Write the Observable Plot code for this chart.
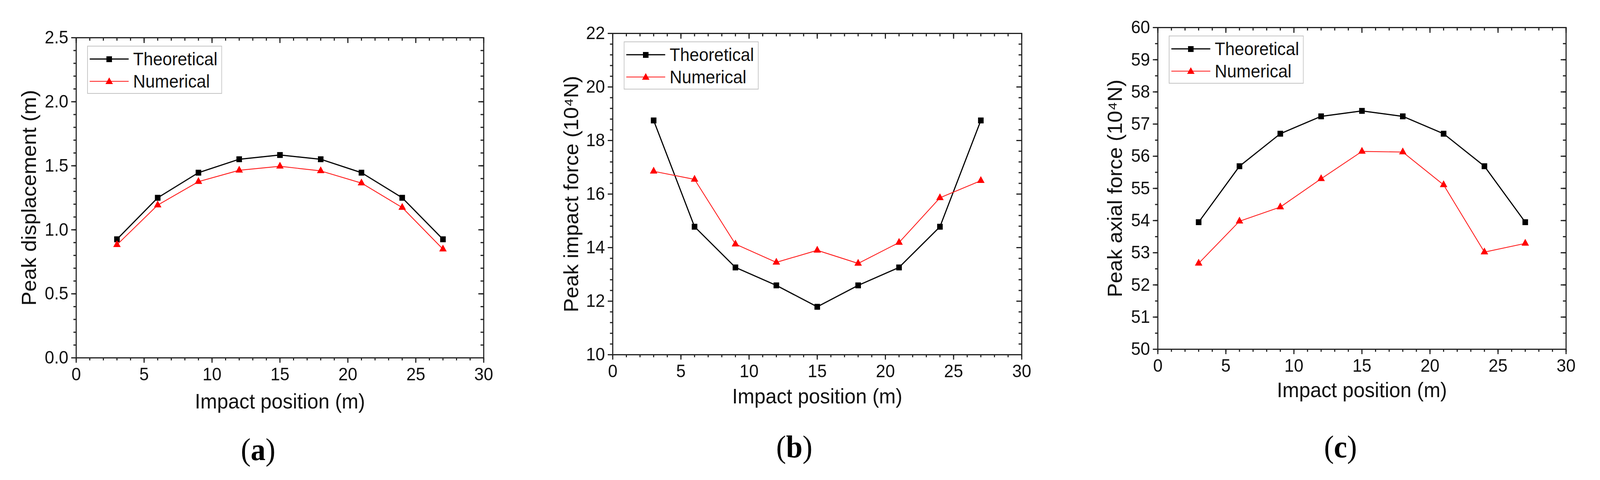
<!DOCTYPE html>
<html>
<head>
<meta charset="utf-8">
<script src="https://cdn.jsdelivr.net/npm/d3@7"></script>
<script src="https://cdn.jsdelivr.net/npm/@observablehq/plot@0.6"></script>
<style>
  body { margin: 0; background: #fff; overflow: hidden; }
  #page { position: relative; width: 4315px; height: 1228px; overflow: hidden; transform-origin: 0 0; }
  .panel { position: absolute; }
  .legend { position: absolute; }
  .caption {
    position: absolute; transform: translate(-50%, -50%);
    font-family: "Liberation Serif", "DejaVu Serif", serif; font-size: 80px; color: #000;
  }
</style>
</head>
<body>
<div id="page"></div>
<script>
// impact positions along the span (m)
const positions = [3, 6, 9, 12, 15, 18, 21, 24, 27];

// (a) peak displacement (m)
const dispTheoretical = [0.926, 1.25, 1.446, 1.551, 1.584, 1.551, 1.446, 1.25, 0.926];
const dispNumerical = [0.883, 1.193, 1.376, 1.465, 1.496, 1.46, 1.365, 1.174, 0.849];

// (b) peak impact force (10^4 N)
const forceTheoretical = [18.75, 14.78, 13.26, 12.59, 11.79, 12.59, 13.26, 14.78, 18.75];
const forceNumerical = [16.85, 16.55, 14.13, 13.45, 13.90, 13.41, 14.19, 15.86, 16.50];

// (c) peak axial force (10^4 N)
const axialTheoretical = [53.95, 55.69, 56.70, 57.24, 57.41, 57.24, 56.70, 55.69, 53.95];
const axialNumerical = [52.67, 53.98, 54.42, 55.30, 56.15, 56.13, 55.11, 53.02, 53.29];

// tick values
const xTicks = [0, 5, 10, 15, 20, 25, 30];
const xMinor = d3.range(0, 31, 1);
const dispTicks = [0, 0.5, 1, 1.5, 2, 2.5];
const forceTicks = [10, 12, 14, 16, 18, 20, 22];
const axialTicks = [50, 51, 52, 53, 54, 55, 56, 57, 58, 59, 60];

const seriesNames = ["Theoretical", "Numerical"];
const xTitle = "Impact position (m)";

const panels = [
  {
    id: "a", theo: dispTheoretical, num: dispNumerical,
    domain: [0, 2.5], ticks: dispTicks, minor: d3.range(0, 2.501, 0.1),
    fmt: d3.format(".1f"), yTitle: "Peak displacement (m)",
    frame: {left: 205, top: 96, right: 1304, bottom: 915},
    yTitleDx: -126, xTitleDy: 112, caption: [696, 1150]
  },
  {
    id: "b", theo: forceTheoretical, num: forceNumerical,
    domain: [10, 22], ticks: forceTicks, minor: d3.range(10, 22.001, 0.4),
    fmt: d3.format("d"), yTitle: "Peak impact force (10⁴N)",
    frame: {left: 1652, top: 85, right: 2755, bottom: 907},
    yTitleDx: -111, xTitleDy: 107, caption: [2142, 1143]
  },
  {
    id: "c", theo: axialTheoretical, num: axialNumerical,
    domain: [50, 60], ticks: axialTicks, minor: d3.range(50, 60.001, 0.5),
    fmt: d3.format("d"), yTitle: "Peak axial force (10⁴N)",
    frame: {left: 3122, top: 70, right: 4223, bottom: 893},
    yTitleDx: -114, xTitleDy: 105, caption: [3615, 1143]
  }
];

const page = document.getElementById("page");
// the window can be narrower than the 4315px figure: squeeze it to fit
const fit = Math.min(1, window.innerWidth / 4315);
page.style.transform = `scaleX(${fit})`;

const mL = 170, mT = 40, mR = 60, mB = 150;
const ink = "#222";

panels.forEach(p => {
  const W = p.frame.right - p.frame.left;
  const H = p.frame.bottom - p.frame.top;
  const theo = positions.map((x, i) => ({x, y: p.theo[i]}));
  const num = positions.map((x, i) => ({x, y: p.num[i]}));

  const chart = Plot.plot({
    width: W + mL + mR,
    height: H + mT + mB,
    marginLeft: mL, marginTop: mT, marginRight: mR, marginBottom: mB,
    style: {fontFamily: "'Liberation Sans', Arial, sans-serif", fontSize: "46px", color: ink, background: "transparent", overflow: "visible"},
    x: {domain: [0, 30], label: null},
    y: {domain: p.domain, label: null},
    marks: [
      // outward ticks, bottom and left
      Plot.axisX({ticks: xMinor, tickSize: 7, tickFormat: () => "", label: null, strokeWidth: 3}),
      Plot.axisX({ticks: xTicks, tickSize: 13, tickPadding: 12, label: null, strokeWidth: 3, fill: "#111"}),
      Plot.axisY({ticks: p.minor, tickSize: 7, tickFormat: () => "", label: null, strokeWidth: 3}),
      Plot.axisY({ticks: p.ticks, tickSize: 13, tickPadding: 8, tickFormat: p.fmt, label: null, strokeWidth: 3, fill: "#111"}),
      // inward ticks, top and right
      Plot.ruleX(xMinor, {insetBottom: H - 8, stroke: ink, strokeWidth: 3}),
      Plot.ruleX(xTicks, {insetBottom: H - 14, stroke: ink, strokeWidth: 3}),
      Plot.ruleY(p.minor, {insetLeft: W - 8, stroke: ink, strokeWidth: 3}),
      Plot.ruleY(p.ticks, {insetLeft: W - 14, stroke: ink, strokeWidth: 3}),
      Plot.frame({stroke: ink, strokeWidth: 3}),
      // series
      Plot.line(theo, {x: "x", y: "y", stroke: "#000", strokeWidth: 3}),
      Plot.dot(theo, {x: "x", y: "y", symbol: "square", r: 8.5, fill: "#000", stroke: null}),
      Plot.line(num, {x: "x", y: "y", stroke: "#ff1a1a", strokeWidth: 2.2}),
      Plot.dot(num, {x: "x", y: "y", symbol: "triangle", r: 7.5, fill: "#ff0000", stroke: null}),
      // axis titles
      Plot.text([xTitle], {text: d => d, frameAnchor: "bottom", dy: p.xTitleDy, fontSize: 54, textAnchor: "middle", lineAnchor: "middle", fill: "#111"}),
      Plot.text([p.yTitle], {text: d => d, frameAnchor: "left", dx: p.yTitleDx, rotate: -90, fontSize: 54, textAnchor: "middle", lineAnchor: "middle", fill: "#111"})
    ]
  });

  const holder = document.createElement("div");
  holder.className = "panel";
  holder.style.left = (p.frame.left - mL) + "px";
  holder.style.top = (p.frame.top - mT) + "px";
  holder.appendChild(chart);
  page.appendChild(holder);

  // legend box in the upper-left corner of the frame
  const ns = "http://www.w3.org/2000/svg";
  const leg = document.createElementNS(ns, "svg");
  leg.setAttribute("class", "legend");
  leg.setAttribute("width", 365);
  leg.setAttribute("height", 124);
  leg.style.left = (p.frame.left + 30) + "px";
  leg.style.top = (p.frame.top + 21) + "px";
  leg.innerHTML = `
    <rect x="1" y="1" width="362" height="121" fill="#fff" stroke="#c4c4c4" stroke-width="2"/>
    <line x1="7" x2="112" y1="34" y2="34" stroke="#000" stroke-width="3"/>
    <rect x="52" y="27" width="15" height="15" fill="#000"/>
    <line x1="7" x2="112" y1="91" y2="91" stroke="#ff1a1a" stroke-width="2.2"/>
    <path d="M59.5,81 L69.5,98 L49.5,98 Z" fill="#ff0000"/>
    <text x="124" y="34" dominant-baseline="central" font-family="'Liberation Sans', Arial, sans-serif" font-size="46" fill="#111">${seriesNames[0]}</text>
    <text x="124" y="91" dominant-baseline="central" font-family="'Liberation Sans', Arial, sans-serif" font-size="46" fill="#111">${seriesNames[1]}</text>`;
  page.appendChild(leg);

  const cap = document.createElement("div");
  cap.className = "caption";
  cap.style.left = p.caption[0] + "px";
  cap.style.top = p.caption[1] + "px";
  cap.innerHTML = `(<b>${p.id}</b>)`;
  page.appendChild(cap);
});
</script>
</body>
</html>
